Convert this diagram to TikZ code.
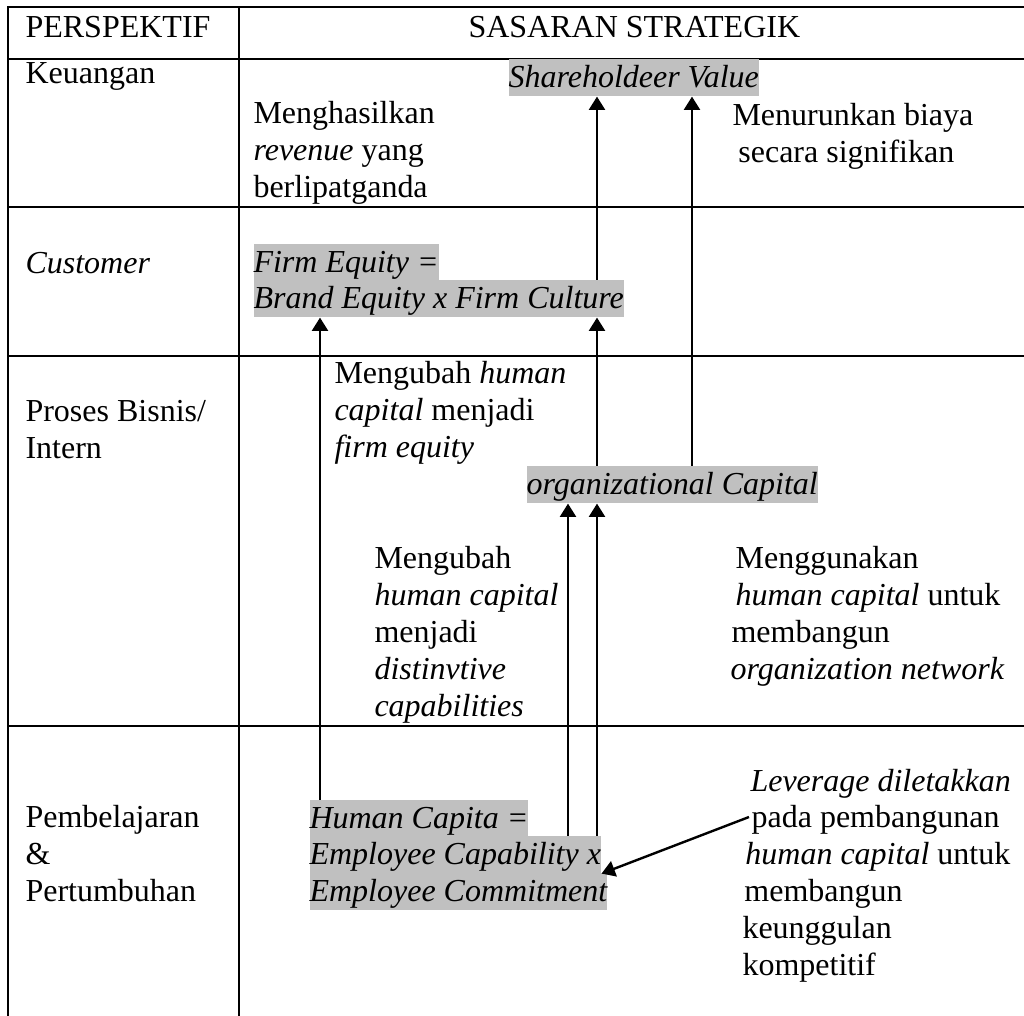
\documentclass[tikz,border=0pt]{standalone}
\usepackage{fontspec}
\setmainfont{Liberation Serif}
\usetikzlibrary{arrows.meta}
\definecolor{hlgray}{HTML}{C0C0C0}

\begin{document}
\begin{tikzpicture}[x=0.375pt, y=-0.375pt,
    txt/.style={anchor=base west, inner sep=0pt, align=left, font=\fontsize{12pt}{13.8pt}\selectfont},
    hl/.style={txt, fill=hlgray, font=\fontsize{12pt}{13.8pt}\selectfont\itshape, text height=10.4pt, text depth=3.4pt},
    arr/.style={line width=0.9pt, -{Triangle[length=5pt, width=6pt]}}]
    \useasboundingbox (0,0) rectangle (1024,1016);

    % Table grid
    \draw[line width=1pt] (8,1016) -- (8,7) -- (1024,7);
    \draw[line width=1pt] (239,7) -- (239,1016);
    \foreach \y in {59,207,356,726} \draw[line width=1pt] (8,\y) -- (1024,\y);

    % Header and perspectives (multi-line nodes sit on their last line)
    \node[txt] (hpers) at (25,37) {PERSPEKTIF};
    \node[txt] (hsas) at (468,37) {SASARAN STRATEGIK};
    \node[txt] (pkeu) at (25,83) {Keuangan};
    \node[txt] (pcus) at (25,273) {\textit{Customer}};
    \node[txt] (ppro) at (25,458) {Proses Bisnis/\\Intern};
    \node[txt] (ppem) at (25,901) {Pembelajaran\\\&\\Pertumbuhan};

    % Strategic objectives (highlighted)
    \node[hl] (sv) at (508,87) {Shareholdeer Value};
    \node[hl] (fe1) at (253,272) {Firm Equity =};
    \node[hl] (fe2) at (253,308) {Brand Equity x Firm Culture};
    \node[hl] (oc) at (526,494) {organizational Capital};
    \node[hl] (hc1) at (309,828) {Human Capita =};
    \node[hl] (hc2) at (309,864) {Employee Capability x};
    \node[hl] (hc3) at (309,901) {Employee Commitment};

    % Descriptions
    \node[txt] (rev) at (253,197) {Menghasilkan\\\textit{revenue} yang\\berlipatganda};
    \node[txt] (cost) at (732,162) {Menurunkan biaya\\\hspace*{2.2pt}secara signifikan};
    \node[txt] (tofe) at (334,457) {Mengubah \textit{human}\\\textit{capital} menjadi\\\textit{firm equity}};
    \node[txt] (todc) at (374,716) {Mengubah\\\textit{human capital}\\menjadi\\\textit{distinvtive}\\\textit{capabilities}};
    \node[txt] (tonet) at (730,679) {\hspace*{1.9pt}Menggunakan\\\hspace*{1.9pt}\textit{human capital} untuk\\\hspace*{0.4pt}membangun\\\textit{organization network}};
    \node[txt] (lev) at (742,975) {\hspace*{3pt}\textit{Leverage diletakkan}\\\hspace*{3.4pt}pada pembangunan\\\hspace*{1.1pt}\textit{human capital} untuk\\\hspace*{0.7pt}membangun\\keunggulan\\kompetitif};
    \coordinate (levtip) at (749,817);

    % Arrows
    \draw[arr] (597,0 |- fe2.north) -- (597,0 |- sv.south);
    \draw[arr] (692,0 |- oc.north) -- (692,0 |- sv.south);
    \draw[arr] (597,0 |- oc.north) -- (597,0 |- fe2.south);
    \draw[arr] (320,0 |- hc1.north) -- (320,0 |- fe2.south);
    \draw[arr] (568,0 |- hc2.north) -- (568,0 |- oc.south);
    \draw[arr] (597,0 |- hc2.north) -- (597,0 |- oc.south);
    \draw[arr] (levtip) -- (hc2.south east);
\end{tikzpicture}
\end{document}
